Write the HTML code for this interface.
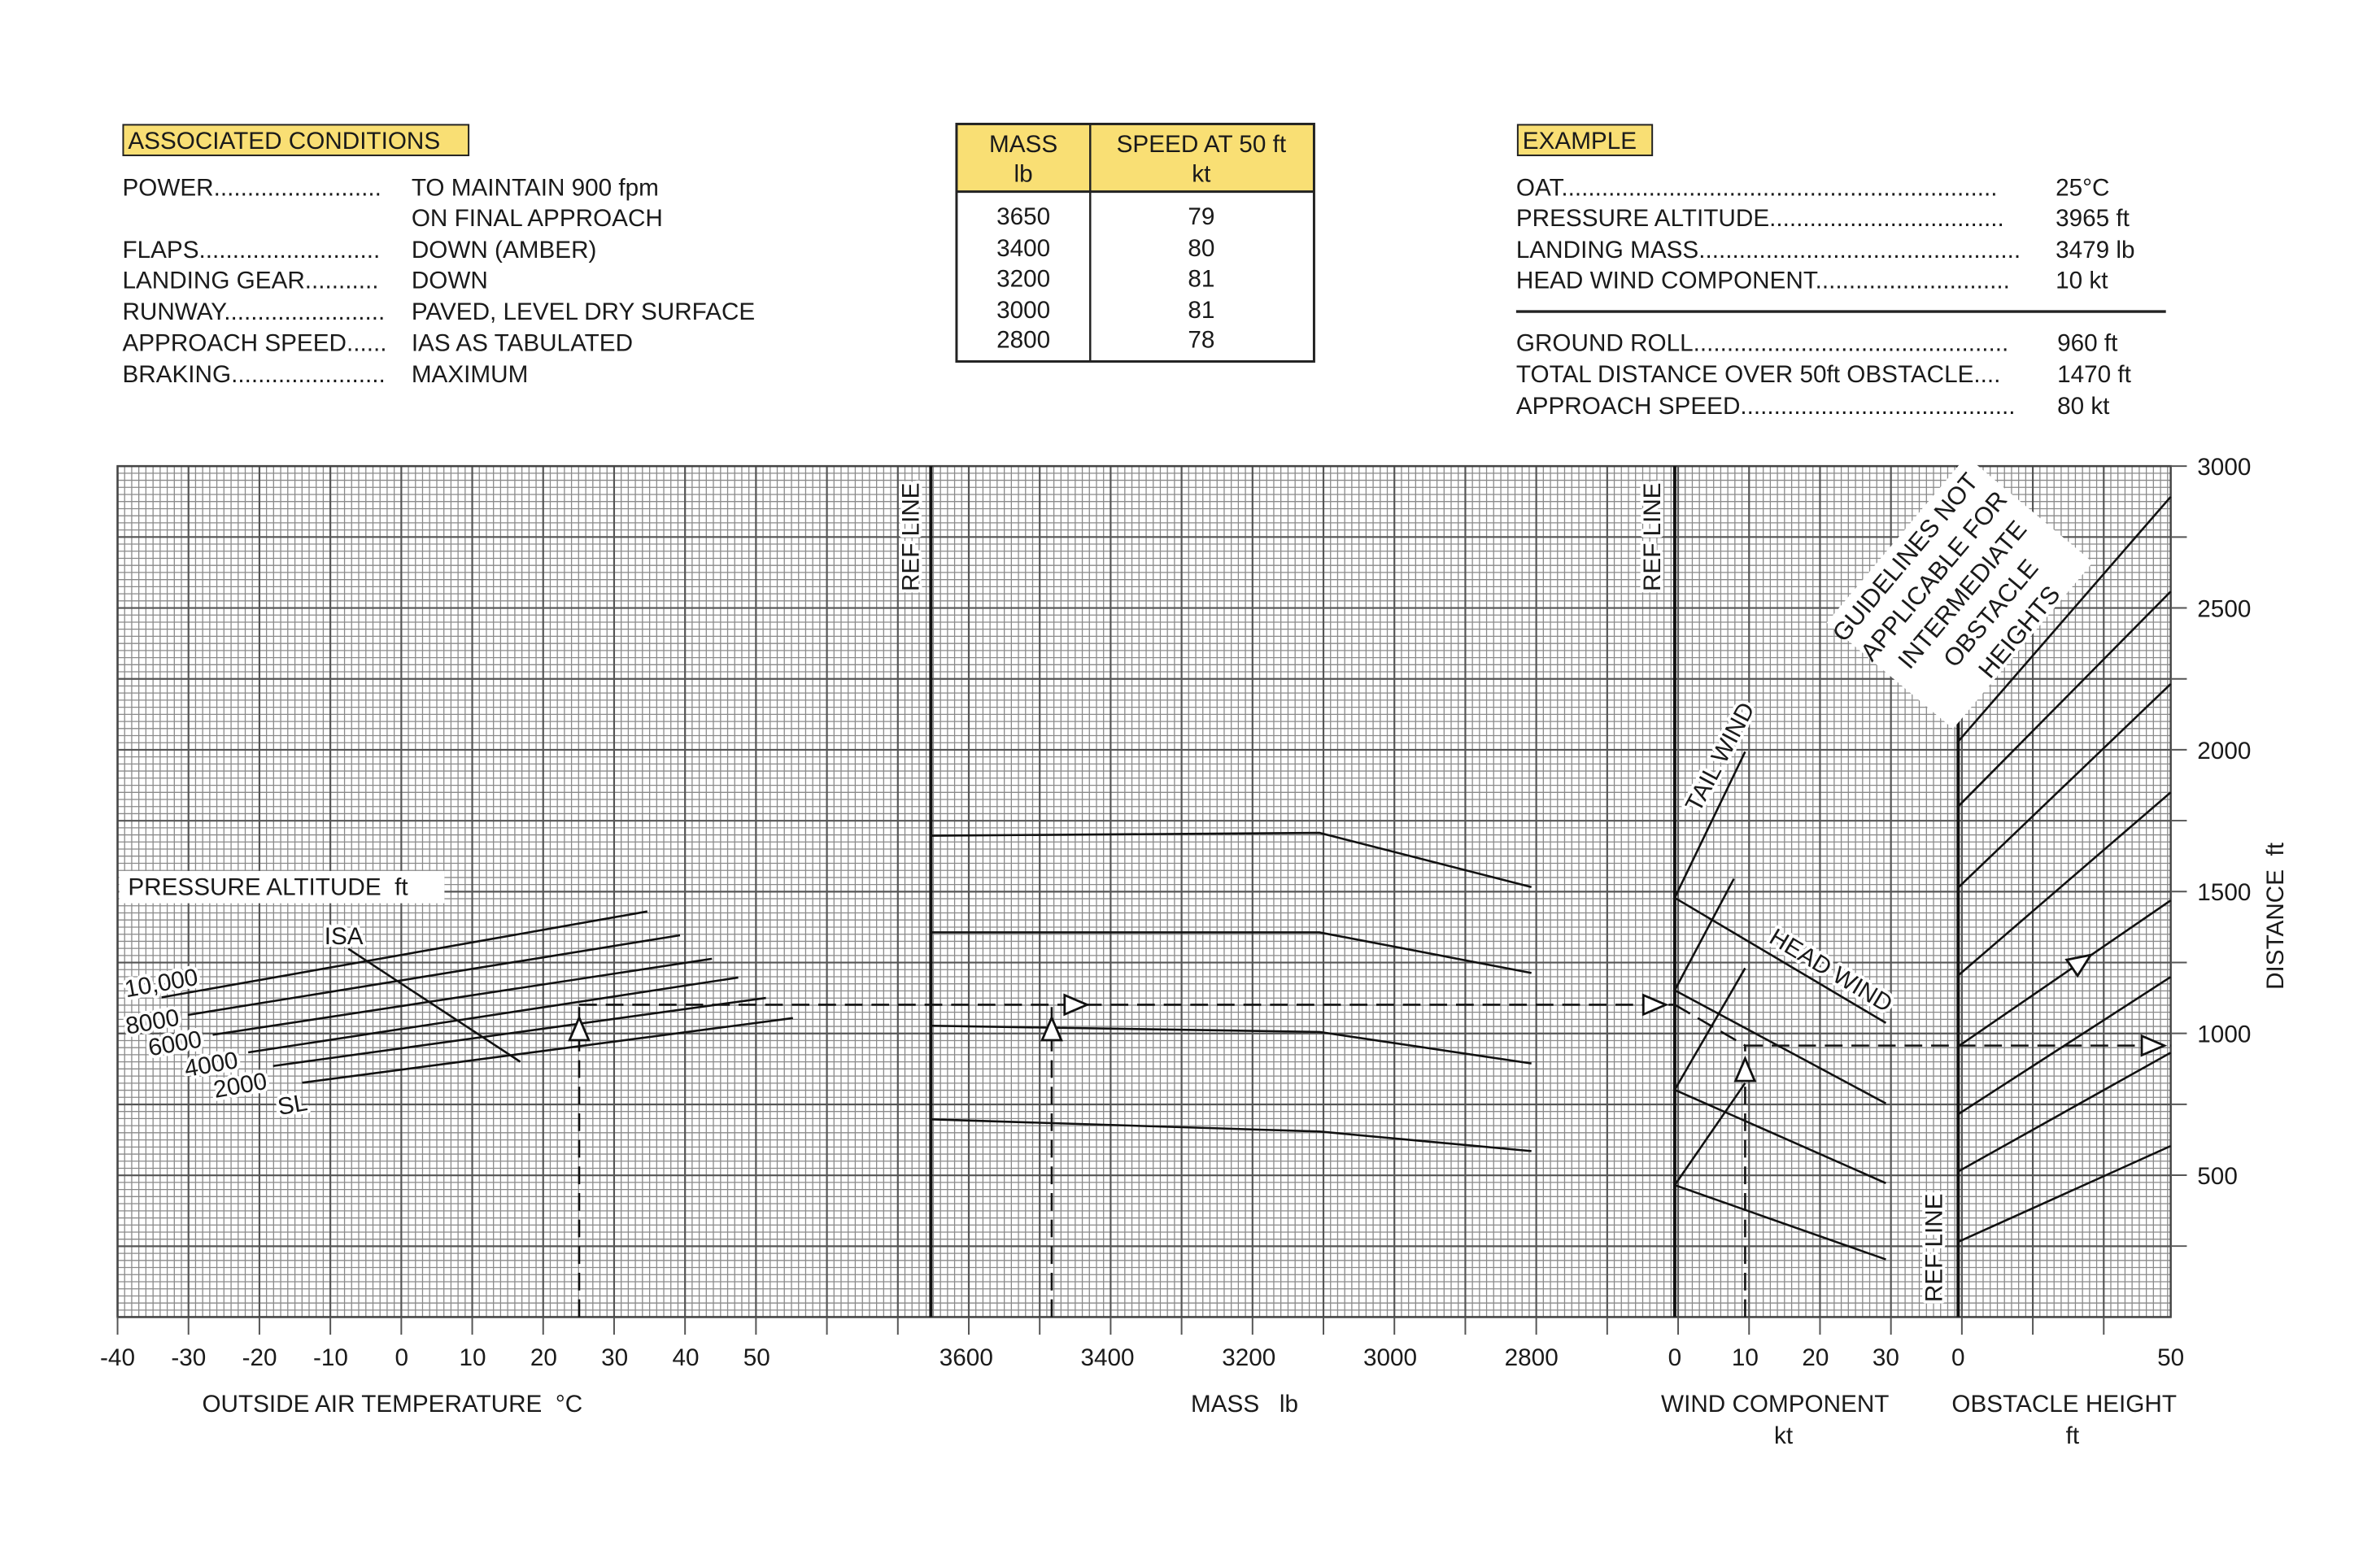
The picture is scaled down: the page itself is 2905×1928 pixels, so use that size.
<!DOCTYPE html>
<html><head><meta charset="utf-8"><style>
html,body{margin:0;padding:0;background:#fff}
svg{display:block}
text{font-family:"Liberation Sans",Arial,sans-serif;fill:#1a1a1a}
.h{font-size:30px}
.wb{stroke:#fff;stroke-width:8px;paint-order:stroke;stroke-linejoin:round}
</style></head><body>
<svg id="chart" width="2905" height="1928" viewBox="0 0 2905 1928" xmlns="http://www.w3.org/2000/svg">
<rect width="2905" height="1928" fill="#fff"/>
<g transform="scale(0.98985)">
<g>
<rect x="153" y="155" width="429" height="38" fill="#f9df74" stroke="#222" stroke-width="2"/>
<text class="h" x="159" y="185">ASSOCIATED CONDITIONS</text>
<text class="h" x="152" y="243">POWER.........................</text><text class="h" x="511" y="243">TO MAINTAIN 900 fpm</text>
<text class="h" x="511" y="281">ON FINAL APPROACH</text>
<text class="h" x="152" y="320">FLAPS...........................</text><text class="h" x="511" y="320">DOWN (AMBER)</text>
<text class="h" x="152" y="358">LANDING GEAR...........</text><text class="h" x="511" y="358">DOWN</text>
<text class="h" x="152" y="397">RUNWAY........................</text><text class="h" x="511" y="397">PAVED, LEVEL DRY SURFACE</text>
<text class="h" x="152" y="436">APPROACH SPEED......</text><text class="h" x="511" y="436">IAS AS TABULATED</text>
<text class="h" x="152" y="475">BRAKING.......................</text><text class="h" x="511" y="475">MAXIMUM</text>
</g>
<g>
<rect x="1188" y="154" width="444" height="84" fill="#f9df74"/>
<rect x="1188" y="154" width="444" height="295" fill="none" stroke="#222" stroke-width="3"/>
<line x1="1188" y1="238" x2="1632" y2="238" stroke="#222" stroke-width="3"/>
<line x1="1354" y1="154" x2="1354" y2="449" stroke="#222" stroke-width="2.5"/>
<g text-anchor="middle" class="h">
<text x="1271" y="189">MASS</text><text x="1271" y="226">lb</text>
<text x="1492" y="189">SPEED AT 50 ft</text><text x="1492" y="226">kt</text>
<text x="1271" y="279">3650</text><text x="1492" y="279">79</text>
<text x="1271" y="318">3400</text><text x="1492" y="318">80</text>
<text x="1271" y="356">3200</text><text x="1492" y="356">81</text>
<text x="1271" y="395">3000</text><text x="1492" y="395">81</text>
<text x="1271" y="432">2800</text><text x="1492" y="432">78</text>
</g></g>
<g>
<rect x="1885" y="155" width="167" height="38" fill="#f9df74" stroke="#222" stroke-width="2"/>
<text class="h" x="1891" y="185">EXAMPLE</text>
<text class="h" x="1883" y="243">OAT.................................................................</text><text class="h" x="2553" y="243">25°C</text>
<text class="h" x="1883" y="281">PRESSURE ALTITUDE...................................</text><text class="h" x="2553" y="281">3965 ft</text>
<text class="h" x="1883" y="320">LANDING MASS................................................</text><text class="h" x="2553" y="320">3479 lb</text>
<text class="h" x="1883" y="358">HEAD WIND COMPONENT.............................</text><text class="h" x="2553" y="358">10 kt</text>
<line x1="1883" y1="387" x2="2690" y2="387" stroke="#222" stroke-width="3.5"/>
<text class="h" x="1883" y="436">GROUND ROLL...............................................</text><text class="h" x="2555" y="436">960 ft</text>
<text class="h" x="1883" y="475">TOTAL DISTANCE OVER 50ft OBSTACLE....</text><text class="h" x="2555" y="475">1470 ft</text>
<text class="h" x="1883" y="514">APPROACH SPEED.........................................</text><text class="h" x="2555" y="514">80 kt</text>
</g>
<g id="grid"></g>
<g id="marks"></g>
<g id="labels" class="h"></g>
</g>
</svg>
<script>
// ---- data ----
const altLabels = ['10,000','8000','6000','4000','2000','SL'];
const altStartT = [-33.8,-30.1,-26.6,-21.6,-18.1,-14.0];
const altStartFt = [1127,1065,995,933,885,826];
const altEndT = [34.6,39.2,43.7,47.4,51.3,55.1];
const altEndFt = [1430,1346,1263,1197,1125,1054];
const isaT = [-7.5,16.7];
const isaFt = [1298,900];
const massKnots = [3650,3100,2800];
const massLine1 = [1697,1707,1516];
const massLine2 = [1356,1356,1213];
const massLine3 = [1027,1005,894];
const massLine4 = [697,654,585];
const windStartFt = [1478,1152,801,465];
const headEndFt = [1037,753,472,203];
const tailEndKt = [10,8.4,10,10];
const tailEndFt = [1993,1545,1230,825];
const obsStartFt = [2029,1800,1514,1204,954,715,513,265];
const obsEndFt = [2892,2558,2232,1850,1469,1199,932,603];
const oatTicks = [-40,-30,-20,-10,0,10,20,30,40,50];
const massTicks = [3600,3400,3200,3000,2800];
const windTicks = [0,10,20,30];
const obsTicks = [0,50];
const distTicks = [500,1000,1500,2000,2500,3000];
const exOAT = 25, exAltFt = 1101, exMass = 3479, exWind = 10, exGroundFt = 957, exTotalFt = 1469;

// ---- scales ----
const L=146,R=2696,T=579,B=1636;
const yFt = f => B - f*(B-T)/3000;
const xOAT = t => L + (t+40)*8.82;
const xMass = m => 1200 + (3600-m)*0.8775;
const xWind = w => 2080 + w*8.74;
const xObs = h => 2432 + h*5.28;
const NS='http://www.w3.org/2000/svg';
function mk(tag, parent, attrs){const e=document.createElementNS(NS,tag);for(const k in attrs)e.setAttribute(k,attrs[k]);parent.appendChild(e);return e;}
const grid=document.getElementById('grid'), marks=document.getElementById('marks'), labels=document.getElementById('labels');

const step=8.81;
let d1='',d2='';
for(let i=0;L+i*step<=R+1;i++){const x=(L+i*step).toFixed(1);if(i%10===0)d2+=`M${x} ${T}V${B}`;else d1+=`M${x} ${T}V${B}`;}
for(let j=0;T+j*step<=B+1;j++){const y=(T+j*step).toFixed(1);if(j%10===0)d2+=`M${L} ${y}H${R}`;else d1+=`M${L} ${y}H${R}`;}
let g1=mk('path',grid,{d:d1,stroke:'#8a8a8a','stroke-width':1.3,fill:'none'});


let g2=mk('path',grid,{d:d2,stroke:'#555','stroke-width':2.2,fill:'none'});


let fr=mk('rect',grid,{x:L,y:T,width:R-L,height:B-T,fill:'none',stroke:'#444','stroke-width':2.5});


let td='';
for(let i=0;L+i*88.1<=R+1;i++){const x=(L+i*88.1).toFixed(1);td+=`M${x} ${B}v22`;}
for(let f=250;f<=3000;f+=250){td+=`M${R} ${yFt(f).toFixed(1)}h20`;}
let tk=mk('path',grid,{d:td,stroke:'#555','stroke-width':2,fill:'none'});


[[xMass(3650),T,B],[xWind(0),T,B],[xObs(0),T,B]].forEach((r,i)=>{
 const l=mk('line',marks,{x1:r[0],y1:r[1],x2:r[0],y2:r[2],stroke:'#111','stroke-width':4});
 
 
});
function seg(x1,y1,x2,y2,name,extra){const l=mk('line',marks,Object.assign({x1,y1,x2,y2,stroke:'#111','stroke-width':2.6},extra||{}));
 
 return l;}
altLabels.forEach((a,i)=>{seg(xOAT(altStartT[i]),yFt(altStartFt[i]),xOAT(altEndT[i]),yFt(altEndFt[i]),'pressure-altitude-line');});
seg(xOAT(isaT[0]),yFt(isaFt[0]),xOAT(isaT[1]),yFt(isaFt[1]),'isa-line');
[massLine1,massLine2,massLine3,massLine4].forEach(arr=>{
 const p=mk('polyline',marks,{points:massKnots.map((m,k)=>xMass(m).toFixed(1)+','+yFt(arr[k]).toFixed(1)).join(' '),fill:'none',stroke:'#111','stroke-width':2.6});
 
 
});
windStartFt.forEach((s,i)=>{
 seg(xWind(0),yFt(s),xWind(30),yFt(headEndFt[i]),'head-wind-line');
 seg(xWind(0),yFt(s),xWind(tailEndKt[i]),yFt(tailEndFt[i]),'tail-wind-line');
});
obsStartFt.forEach((s,i)=>{seg(xObs(0),yFt(s),xObs(50),yFt(obsEndFt[i]),'obstacle-guide-line');});
const dash={'stroke-dasharray':'22 11','stroke-width':2.6};
seg(xOAT(exOAT),B,xOAT(exOAT),yFt(exAltFt),'example-oat-dash',dash);
seg(xOAT(exOAT),yFt(exAltFt),xWind(0),yFt(exAltFt),'example-altitude-dash',dash);
seg(xMass(exMass),B,xMass(exMass),yFt(exAltFt),'example-mass-dash',dash);
seg(xWind(0),yFt(exAltFt),xWind(exWind),yFt(exGroundFt),'example-wind-dash',dash);
seg(xWind(exWind),B,xWind(exWind),yFt(exGroundFt),'example-wind-vertical-dash',dash);
seg(xWind(exWind),yFt(exGroundFt),xObs(50),yFt(exGroundFt),'example-ground-roll-dash',dash);
function arrow(cx,cy,ang,name){const g=mk('polygon',marks,{points:'14,0 -14,-12 -14,12',transform:`translate(${cx.toFixed(1)},${cy.toFixed(1)}) rotate(${ang})`,fill:'#fff',stroke:'#111','stroke-width':2.8});
 
 }
arrow(xOAT(exOAT),yFt(exAltFt)+30,-90,'arrow-oat-up');
arrow(xMass(exMass)+30,yFt(exAltFt),0,'arrow-mass-right');
arrow(xMass(exMass),yFt(exAltFt)+30,-90,'arrow-mass-up');
arrow(xWind(0)-25,yFt(exAltFt),0,'arrow-wind-right');
arrow(xWind(exWind),yFt(exGroundFt)+30,-90,'arrow-wind-up');
arrow(xObs(50)-22,yFt(exGroundFt),0,'arrow-distance-right');
{const h=29,f=exGroundFt+(exTotalFt-exGroundFt)*h/50;const ang=Math.atan2(yFt(exTotalFt)-yFt(exGroundFt),xObs(50)-xObs(0))*180/Math.PI;arrow(xObs(h),yFt(f),ang,'arrow-obstacle');}

function txt(x,y,s,name,anchor){const t=mk('text',labels,{x,y,'text-anchor':anchor||'middle'});t.textContent=s;
 
 return t;}
oatTicks.forEach(t=>txt(xOAT(t),1696,String(t),'oat-tick-label'));
massTicks.forEach(m=>txt(xMass(m),1696,String(m),'mass-tick-label'));
windTicks.forEach(w=>txt(xWind(w),1696,String(w),'wind-tick-label'));
obsTicks.forEach(h=>txt(xObs(h),1696,String(h),'obstacle-tick-label'));
distTicks.forEach(f=>txt(2729,yFt(f)+11,String(f),'distance-tick-label','start'));
</script>
<svg style="position:absolute;left:0;top:0" width="2905" height="1928">
<g class="h" transform="scale(0.98985)">
<text x="251" y="1754">OUTSIDE AIR TEMPERATURE&#160;&#160;°C</text>
<text x="1479" y="1754">MASS&#160;&#160;&#160;lb</text>
<text x="2063" y="1754">WIND COMPONENT</text><text x="2215" y="1793" text-anchor="middle">kt</text>
<text x="2424" y="1754">OBSTACLE HEIGHT</text><text x="2574" y="1793" text-anchor="middle">ft</text>
<text transform="translate(2836,1138) rotate(-90)" text-anchor="middle">DISTANCE&#160;&#160;ft</text>
<rect x="148" y="1082" width="404" height="40" fill="#fff"/>
<text x="159" y="1112">PRESSURE ALTITUDE&#160;&#160;ft</text>
<text class="wb" x="427" y="1173" text-anchor="middle">ISA</text>
<text class="wb" transform="translate(202,1231) rotate(-10)" text-anchor="middle">10,000</text>
<text class="wb" transform="translate(191,1279) rotate(-10)" text-anchor="middle">8000</text>
<text class="wb" transform="translate(219,1306) rotate(-10)" text-anchor="middle">6000</text>
<text class="wb" transform="translate(264,1332) rotate(-10)" text-anchor="middle">4000</text>
<text class="wb" transform="translate(300,1358) rotate(-10)" text-anchor="middle">2000</text>
<text class="wb" transform="translate(365,1382) rotate(-10)" text-anchor="middle">SL</text>
<text class="wb" transform="translate(1141,667) rotate(-90)" text-anchor="middle">REF LINE</text>
<text class="wb" transform="translate(2062,667) rotate(-90)" text-anchor="middle">REF LINE</text>
<text class="wb" transform="translate(2412,1550) rotate(-90)" text-anchor="middle">REF LINE</text>
<text class="wb" transform="translate(2145,945) rotate(-62)" text-anchor="middle">TAIL WIND</text>
<text class="wb" transform="translate(2269,1214) rotate(31)" text-anchor="middle">HEAD WIND</text>
<g transform="translate(2425,735) rotate(-50)" text-anchor="middle" style="font-size:31px">
<rect x="-130" y="-95" width="270" height="205" fill="#fff"/>
<text x="-5" y="-62">GUIDELINES NOT</text>
<text x="0" y="-20">APPLICABLE FOR</text>
<text x="5" y="22">INTERMEDIATE</text>
<text x="10" y="64">OBSTACLE</text>
<text x="15" y="106">HEIGHTS</text>
</g>
</g></svg>
</body></html>
